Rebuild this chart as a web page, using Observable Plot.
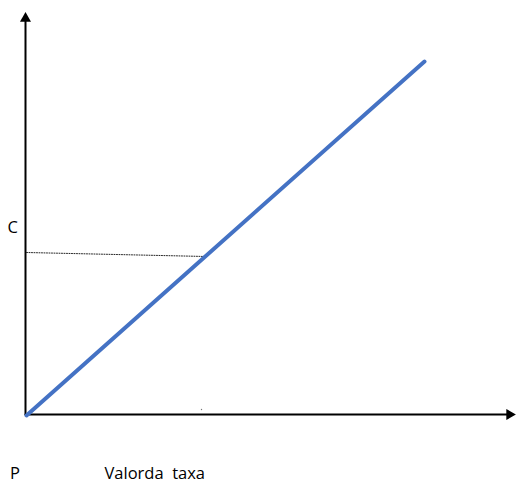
<!DOCTYPE html>
<html>
<head>
<meta charset="utf-8">
<script src="https://cdn.jsdelivr.net/npm/d3@7"></script>
<script src="https://cdn.jsdelivr.net/npm/@observablehq/plot@0.6"></script>
<style>
  html, body { margin: 0; padding: 0; background: #fff; }
  svg { white-space: pre; }
</style>
</head>
<body>
<div id="chart"></div>
<script>
// Schematic: tax value (x) vs cost line through origin
const lineX = [1, 399];
const lineY = [-1, 353];
const refX = [1, 180];          // dotted reference line to point C
const refY = [162, 158];
const axisXEnd = 484;
const axisYEnd = 396;
const labels = ["C", "P", "Valorda  taxa"];
const labelX = [-18, -15.5, 79];
const labelY = [186.3, -59.5, -59.7];

const linePts = lineX.map((x, i) => ({x, y: lineY[i]}));
const refPts = refX.map((x, i) => ({x, y: refY[i]}));
const labelData = labels.map((t, i) => ({t, x: labelX[i], y: labelY[i]}));

const chart = Plot.plot({
  width: 517,
  height: 484,
  marginTop: 0, marginRight: 0, marginBottom: 0, marginLeft: 0,
  x: {domain: [-25, 492], axis: null},
  y: {domain: [-70, 414], axis: null},
  style: {fontFamily: "'Open Sans', sans-serif", background: "#fff"},
  marks: [
    // axes
    Plot.line([{x: 0, y: 0}, {x: 0, y: axisYEnd}], {x: "x", y: "y", stroke: "#000", strokeWidth: 2}),
    Plot.line([{x: 0, y: 0}, {x: axisXEnd, y: 0}], {x: "x", y: "y", stroke: "#000", strokeWidth: 2}),
    Plot.dot([{x: 0, y: axisYEnd}], {x: "x", y: "y", symbol: "triangle", r: 4.1, fill: "#000", stroke: null}),
    Plot.dot([{x: axisXEnd, y: 0}], {x: "x", y: "y", symbol: "triangle", r: 4.1, fill: "#000", stroke: null, rotate: 90}),
    // dotted reference line
    Plot.line(refPts, {x: "x", y: "y", stroke: "#222", strokeWidth: 1, strokeDasharray: "1,1.5"}),
    // main line
    Plot.line(linePts, {x: "x", y: "y", stroke: "#4472C4", strokeWidth: 4}),
    // stray tiny mark
    Plot.dot([{x: 176, y: 5}], {x: "x", y: "y", r: 0.7, fill: "#777", stroke: null}),
    // labels
    Plot.text(labelData, {x: "x", y: "y", text: "t", textAnchor: "start", fontSize: 16.5, fill: "#000"})
  ]
});
document.getElementById("chart").append(chart);
</script>
</body>
</html>
